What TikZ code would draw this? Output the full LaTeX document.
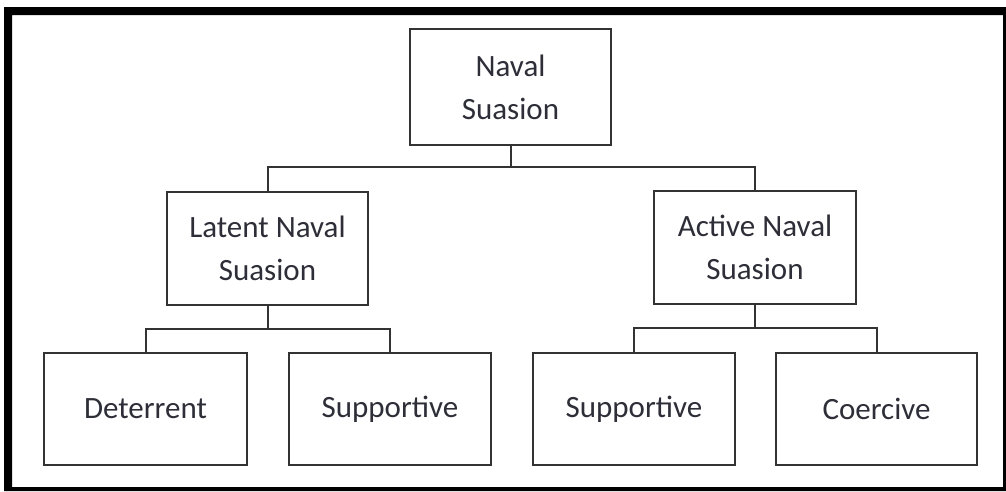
\documentclass[tikz,border=0pt]{standalone}
\usepackage{fontspec}
\setmainfont{Carlito}
\definecolor{boxline}{HTML}{333333}
\definecolor{txt}{HTML}{2E2E38}
\begin{document}
\begin{tikzpicture}[x=1pt,y=-1pt,
  box/.style={draw=boxline, line width=2.6pt, fill=white, inner sep=0pt,
    minimum width=201pt, align=center, text=txt,
    font=\fontsize{31}{43}\selectfont},
  conn/.style={draw=boxline, line width=2pt}]
\useasboundingbox (0,0) rectangle (1006,491);
\fill[white] (0,0) rectangle (1006,491);
\fill[black, even odd rule] (4,7) rectangle (1006,491) (12,15) rectangle (1003,487);

\node[box, minimum height=116pt] (top) at (510.5,87) {Naval\\Suasion};
\node[box, minimum height=113pt] (latent) at (267.5,248.5) {Latent Naval\\Suasion};
\node[box, minimum height=113pt, minimum width=202pt] (active) at (755,247.5) {Active Naval\\Suasion};

\node[box, minimum height=112pt, minimum width=203pt] (det) at (145.5,409) {Deterrent};
\node[box, minimum height=112pt, minimum width=202pt] (sup1) at (390,409) {Supportive};
\node[box, minimum height=112pt, minimum width=202pt] (sup2) at (634,409) {Supportive};
\node[box, minimum height=112pt, minimum width=201pt] (coe) at (876.5,409) {Coercive};

\coordinate (j1) at (510.5,167);
\coordinate (j2) at (267.5,329);
\coordinate (j3) at (755,328);

\draw[conn] (top.south) -- (j1);
\draw[conn] (latent.north) |- (j1) -| (active.north);
\draw[conn] (latent.south) -- (j2);
\draw[conn] (det.north) |- (j2) -| (sup1.north);
\draw[conn] (active.south) -- (j3);
\draw[conn] (sup2.north) |- (j3) -| (coe.north);
\end{tikzpicture}
\end{document}
